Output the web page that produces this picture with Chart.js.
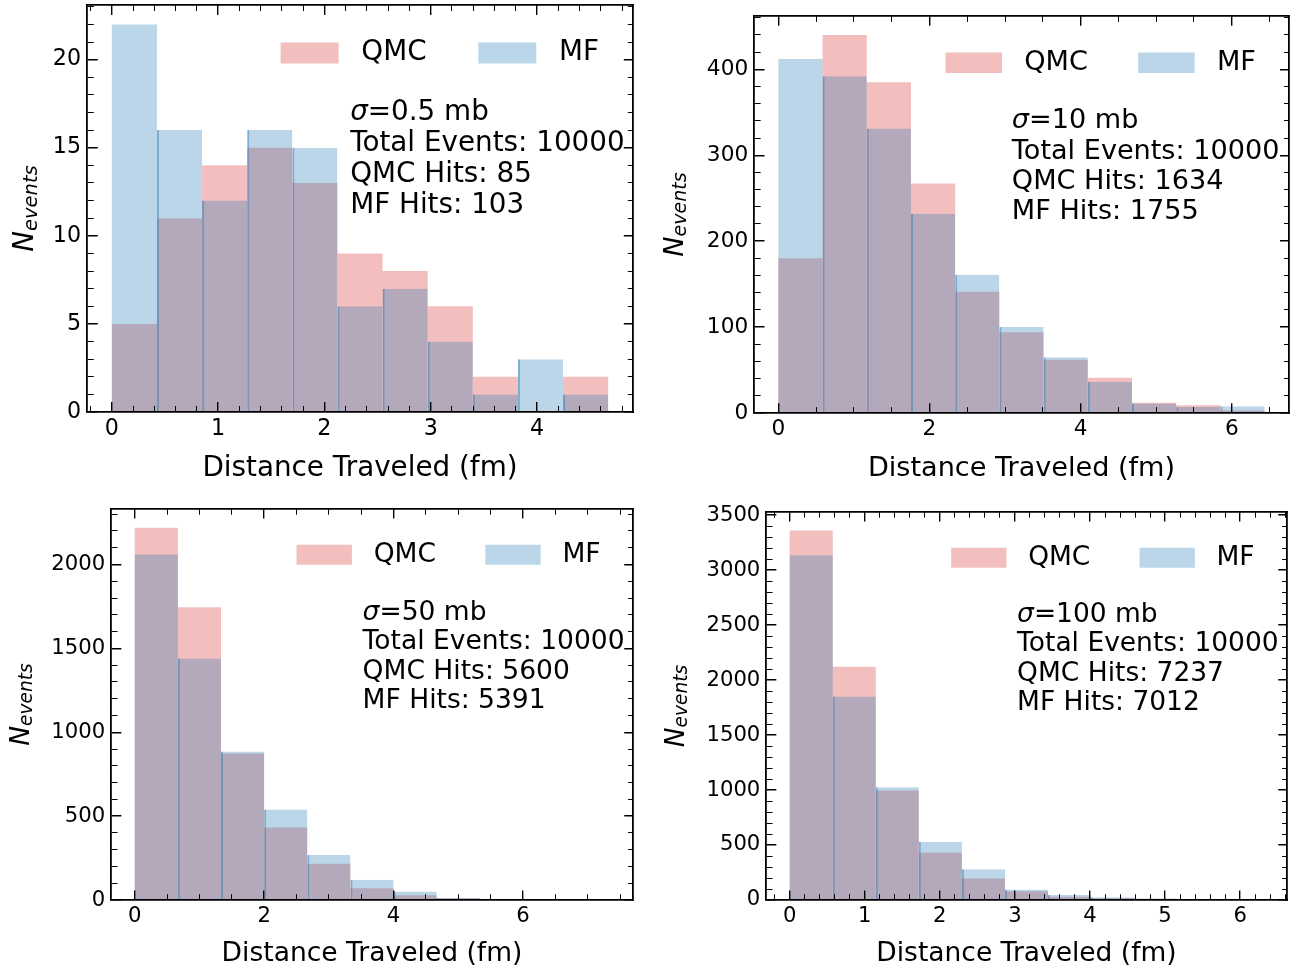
<!DOCTYPE html>
<html lang="en">
<head>
<meta charset="utf-8">
<title>Distance traveled: QMC vs MF</title>
<script src="https://cdn.jsdelivr.net/npm/chart.js@4.4.1/dist/chart.umd.min.js"></script>
<style>
  html, body { margin: 0; padding: 0; background: #ffffff; }
  #figure { position: relative; width: 1304px; height: 970px; overflow: hidden; background: #ffffff; }
  .panel { position: absolute; width: 652px; height: 485px; }
  .panel canvas { display: block; }
</style>
</head>
<body>
<div id="figure">
  <div class="panel" style="left:0px;top:0px"><canvas id="hist-05" width="652" height="485"></canvas></div>
  <div class="panel" style="left:652px;top:0px"><canvas id="hist-10" width="652" height="485"></canvas></div>
  <div class="panel" style="left:0px;top:485px"><canvas id="hist-50" width="652" height="485"></canvas></div>
  <div class="panel" style="left:652px;top:485px"><canvas id="hist-100" width="652" height="485"></canvas></div>
</div>
<script>
// ---------------- data ----------------
const sigmaValues = ['0.5', '10', '50', '100'];   // cross sections (mb)
const totalEvents = 10000;

// sigma = 0.5 mb : bin centres (fm) and counts per bin
const binCenters05 = [0.2123, 0.6368, 1.0613, 1.4858, 1.9103, 2.3348, 2.7593, 3.1838, 3.6083, 4.0328, 4.4573];
const qmcCounts05  = [5, 11, 14, 15, 13, 9, 8, 6, 2, 0, 2];
const mfCounts05   = [22, 16, 12, 16, 15, 6, 7, 4, 1, 3, 1];

// sigma = 10 mb
const binCenters10 = [0.2925, 0.8775, 1.4625, 2.0475, 2.6325, 3.2175, 3.8025, 4.3875, 4.9725, 5.5575, 6.1425];
const qmcCounts10  = [180, 440, 385, 267, 141, 94, 62, 41, 12, 9, 3];
const mfCounts10   = [412, 392, 331, 232, 161, 100, 65, 36, 11, 7, 8];

// sigma = 50 mb
const binCenters50 = [0.3333, 1.0000, 1.6667, 2.3333, 3.0000, 3.6667, 4.3333, 5.0000, 5.6667, 6.3333, 7.0000];
const qmcCounts50  = [2220, 1745, 873, 432, 216, 70, 28, 10, 4, 2, 0];
const mfCounts50   = [2060, 1440, 885, 540, 268, 120, 50, 14, 8, 4, 2];

// sigma = 100 mb
const binCenters100 = [0.2868, 0.8603, 1.4338, 2.0073, 2.5808, 3.1543, 3.7278, 4.3013, 4.8748, 5.4483, 6.0218];
const qmcCounts100  = [3360, 2120, 995, 430, 195, 80, 30, 15, 8, 4, 0];
const mfCounts100   = [3135, 1850, 1025, 530, 280, 95, 45, 25, 15, 8, 4];

// labelled (major) tick values
const xTicks05  = [0, 1, 2, 3, 4];
const yTicks05  = [0, 5, 10, 15, 20];
const xTicks10  = [0, 2, 4, 6];
const yTicks10  = [0, 100, 200, 300, 400];
const xTicks50  = [0, 2, 4, 6];
const yTicks50  = [0, 500, 1000, 1500, 2000];
const xTicks100 = [0, 1, 2, 3, 4, 5, 6];
const yTicks100 = [0, 500, 1000, 1500, 2000, 2500, 3000, 3500];

// ---------------- styling ----------------
const FAMILY = "'DejaVu Sans', sans-serif";
const TICK_PX = 22.2;
const LABEL_PX = 27.8;
const SUB_PX = 19.5;
const SUB_DROP = 3.5;
const CANVAS_W = 652, CANVAS_H = 485;

const QMC_FILL = 'rgba(214, 39, 40, 0.3)';
const MF_FILL  = 'rgba(31, 119, 180, 0.3)';
const MF_EDGE  = 'rgba(31, 119, 180, 0.6)';

const MAJOR_LEN = 10, MINOR_LEN = 6;
const MAJOR_W = 1.4, MINOR_W = 1.0, FRAME_W = 1.8;

const NOTE_X = 0.482, NOTE_Y = 0.283, NOTE_GAP = 31;

Chart.defaults.font.family = FAMILY;
Chart.defaults.color = '#000';

// k: size factor of each panel's lettering and tick marks
const panels = [
  { id: 'hist-05', sigma: sigmaValues[0], centers: binCenters05, qmc: qmcCounts05, mf: mfCounts05,
    xMajor: xTicks05, yMajor: yTicks05, xMinor: 0.2, yMinor: 1,
    xMin: -0.2335, xMax: 4.903, yMax: 23.1, k: 1.0,
    area: { left: 87, right: 633, top: 5, bottom: 412 }, ylabelX: 33 },
  { id: 'hist-10', sigma: sigmaValues[1], centers: binCenters10, qmc: qmcCounts10, mf: mfCounts10,
    xMajor: xTicks10, yMajor: yTicks10, xMinor: 0.5, yMinor: 20,
    xMin: -0.3218, xMax: 6.757, yMax: 462, k: 0.975,
    area: { left: 102, right: 637, top: 16, bottom: 413 }, ylabelX: 31 },
  { id: 'hist-50', sigma: sigmaValues[2], centers: binCenters50, qmc: qmcCounts50, mf: mfCounts50,
    xMajor: xTicks50, yMajor: yTicks50, xMinor: 0.5, yMinor: 100,
    xMin: -0.3667, xMax: 7.700, yMax: 2331, k: 0.955,
    area: { left: 111, right: 633, top: 24, bottom: 415 }, ylabelX: 29 },
  { id: 'hist-100', sigma: sigmaValues[3], centers: binCenters100, qmc: qmcCounts100, mf: mfCounts100,
    xMajor: xTicks100, yMajor: yTicks100, xMinor: 0.2, yMinor: 100,
    xMin: -0.3154, xMax: 6.624, yMax: 3528, k: 0.953,
    area: { left: 114, right: 635, top: 27, bottom: 415 }, ylabelX: 32 }
];

// ---------------- helpers ----------------
function sum(a) { return a.reduce((s, v) => s + v, 0); }

// major + minor tick list between min and max
function buildTicks(min, max, step, majors) {
  const out = [];
  for (let k = Math.ceil(min / step - 1e-9); k * step <= max + 1e-9; k++) {
    const v = Math.round(k * step * 1e6) / 1e6;
    out.push({ value: v, major: majors.some(m => Math.abs(m - v) < 1e-6) });
  }
  return out;
}

// grid lines become short inward ticks on both opposite edges of the plot frame
function tickDash(vertical, k) {
  return (c) => {
    if (c.type !== 'tick' || !c.tick) return [];
    const a = c.chart.chartArea;
    const span = vertical ? (a.bottom - a.top) : (a.right - a.left);
    const len = (c.tick.major ? MAJOR_LEN : MINOR_LEN) * k;
    return [len, Math.max(span - 2 * len, 0), len, 5000];
  };
}

const tickLabel = (v, i, t) => (t[i] && t[i].major) ? String(v) : '';

function noEdgePadding(s) {
  s.paddingLeft = 0; s.paddingRight = 0; s.paddingTop = 0; s.paddingBottom = 0;
}

function frameAxis(position, min, max, sizeKey) {
  return {
    type: 'linear', position, display: true, min, max, offset: false,
    ticks: { display: false },
    grid: { display: false, drawTicks: false, offset: false },
    border: { display: true, color: '#000', width: FRAME_W, z: 2 },
    afterFit: s => { s[sizeKey] = 0; noEdgePadding(s); }
  };
}

function hiddenX(p) {
  return {
    type: 'linear', display: false, min: p.xMin, max: p.xMax, bounds: 'data', offset: false,
    grid: { offset: false },
    afterBuildTicks: s => { s.ticks = [{ value: p.xMin }, { value: p.xMax }]; },
    afterFit: s => { noEdgePadding(s); }
  };
}

function decorPlugin(p) {
  const k = p.k;
  const note = [
    [{ text: '\u03c3', italic: true }, { text: '=' + p.sigma + ' mb' }],
    [{ text: 'Total Events: ' + totalEvents }],
    [{ text: 'QMC Hits: ' + sum(p.qmc) }],
    [{ text: 'MF Hits: ' + sum(p.mf) }]
  ];
  return {
    id: 'decor',
    afterLayout(chart) {
      // the legend row sits inside the plot frame
      const lg = chart.legend;
      if (lg) { lg.bottom = chart.chartArea.bottom; lg.height = lg.bottom - lg.top; }
    },
    afterDraw(chart) {
      const { ctx, chartArea: a } = chart;
      ctx.save();
      ctx.fillStyle = '#000';
      ctx.textAlign = 'left';
      ctx.textBaseline = 'alphabetic';
      const x0 = a.left + NOTE_X * (a.right - a.left);
      let y = a.top + NOTE_Y * (a.bottom - a.top);
      note.forEach(line => {
        let x = x0;
        line.forEach(seg => {
          ctx.font = (seg.italic ? 'italic ' : '') + (LABEL_PX * k) + 'px ' + FAMILY;
          ctx.fillText(seg.text, x, y);
          x += ctx.measureText(seg.text).width;
        });
        y += NOTE_GAP * k;
      });

      // y-axis label: N with subscript "events"
      const cy = (a.top + a.bottom) / 2;
      const big = 'italic ' + (LABEL_PX * k) + 'px ' + FAMILY;
      const small = 'italic ' + (SUB_PX * k) + 'px ' + FAMILY;
      ctx.font = big;
      const wN = ctx.measureText('N').width;
      ctx.font = small;
      const wSub = ctx.measureText('events').width;
      ctx.translate(p.ylabelX, cy);
      ctx.rotate(-Math.PI / 2);
      const start = -(wN + wSub) / 2;
      ctx.font = big;
      ctx.fillText('N', start, 0);
      ctx.font = small;
      ctx.fillText('events', start + wN, SUB_DROP * k);
      ctx.restore();
    }
  };
}

function makeChart(p) {
  const k = p.k;
  const canvas = document.getElementById(p.id);
  const tickFont = { family: FAMILY, size: TICK_PX * k };
  const labelFont = { family: FAMILY, size: LABEL_PX * k };
  const tickWidth = c => ((c.tick && c.tick.major) ? MAJOR_W : MINOR_W) * Math.min(1, k + 0.03);
  const barCommon = { barPercentage: 1, categoryPercentage: 1, inflateAmount: 0, borderSkipped: false, grouped: false };
  return new Chart(canvas, {
    type: 'bar',
    data: {
      datasets: [
        Object.assign({
          label: 'QMC',
          data: p.centers.map((x, i) => ({ x, y: p.qmc[i] })),
          xAxisID: 'xq', yAxisID: 'y',
          backgroundColor: QMC_FILL, borderWidth: 0, order: 2
        }, barCommon),
        Object.assign({
          label: 'MF',
          data: p.centers.map((x, i) => ({ x, y: p.mf[i] })),
          xAxisID: 'xm', yAxisID: 'y',
          backgroundColor: MF_FILL, borderColor: MF_EDGE,
          borderWidth: c => c.dataIndex === 0 ? 0 : { left: 2, top: 0, right: 0, bottom: 0 },
          order: 1
        }, barCommon)
      ]
    },
    options: {
      responsive: false,
      devicePixelRatio: 1,
      animation: false,
      events: [],
      layout: {
        autoPadding: false,
        padding: { left: 0, top: p.area.top, right: CANVAS_W - p.area.right, bottom: 0 }
      },
      scales: {
        x: {
          type: 'linear', position: 'bottom', min: p.xMin, max: p.xMax, bounds: 'data', offset: false,
          afterBuildTicks: s => { s.ticks = buildTicks(p.xMin, p.xMax, p.xMinor, p.xMajor); },
          afterFit: s => { s.height = CANVAS_H - p.area.bottom; noEdgePadding(s); },
          ticks: { autoSkip: false, maxRotation: 0, minRotation: 0, padding: 3.5 * k, color: '#000',
                   font: tickFont, callback: tickLabel },
          grid: { display: true, drawOnChartArea: true, drawTicks: false, offset: false, z: 1,
                  color: '#000', lineWidth: tickWidth },
          border: { display: true, color: '#000', width: FRAME_W, z: 2, dash: tickDash(true, k) },
          title: { display: true, text: 'Distance Traveled (fm)', color: '#000',
                   font: labelFont, padding: { top: 0, bottom: -0.5 } }
        },
        xTop: frameAxis('top', p.xMin, p.xMax, 'height'),
        xq: hiddenX(p),
        xm: hiddenX(p),
        y: {
          type: 'linear', position: 'left', min: 0, max: p.yMax, bounds: 'data',
          afterBuildTicks: s => { s.ticks = buildTicks(0, p.yMax, p.yMinor, p.yMajor); },
          afterFit: s => { s.width = p.area.left; noEdgePadding(s); },
          ticks: { autoSkip: false, padding: 6 * k, color: '#000', font: tickFont, callback: tickLabel },
          grid: { display: true, drawOnChartArea: true, drawTicks: false, z: 1,
                  color: '#000', lineWidth: tickWidth },
          border: { display: true, color: '#000', width: FRAME_W, z: 2, dash: tickDash(false, k) }
        },
        yRight: frameAxis('right', 0, p.yMax, 'width')
      },
      plugins: {
        tooltip: { enabled: false },
        title: { display: false },
        legend: {
          display: true, position: 'top', align: 'end', fullSize: false, maxHeight: 0.01,
          labels: {
            boxWidth: 58 * k, boxHeight: 21 * k, padding: 34 * k, color: '#000',
            font: labelFont,
            generateLabels: () => [
              { text: ' QMC  ', fillStyle: QMC_FILL, strokeStyle: 'rgba(0,0,0,0)', lineWidth: 0, hidden: false, datasetIndex: 0 },
              { text: ' MF', fillStyle: MF_FILL, strokeStyle: 'rgba(0,0,0,0)', lineWidth: 0, hidden: false, datasetIndex: 1 }
            ]
          }
        }
      }
    },
    plugins: [decorPlugin(p)]
  });
}

panels.forEach(makeChart);
</script>
</body>
</html>
